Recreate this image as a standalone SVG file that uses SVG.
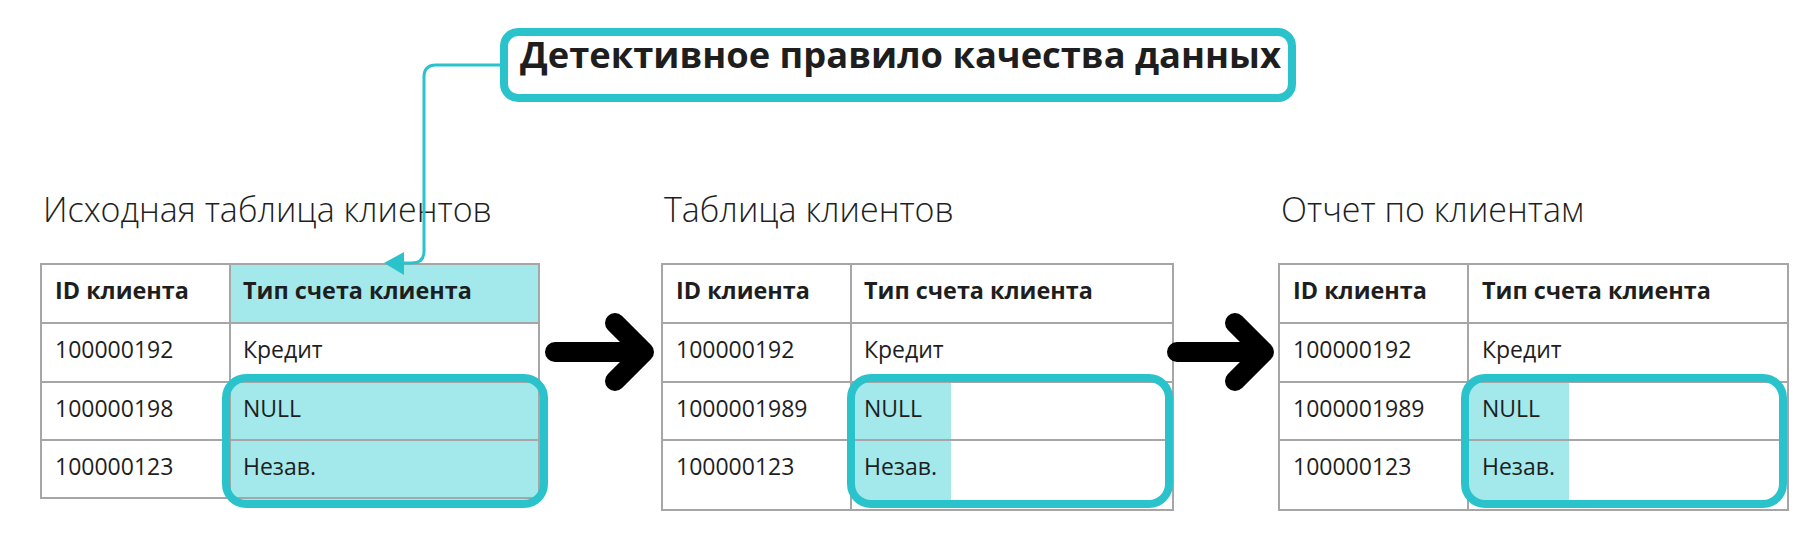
<svg xmlns="http://www.w3.org/2000/svg" width="1818" height="536" viewBox="0 0 1818 536">
<style>
.t{font-family:"Open Sans","Liberation Sans",sans-serif;fill:#1e1e1e}
.sub{font-size:34px;font-weight:300}
.hd{font-size:23.4px;font-weight:700}
.cell{font-size:23px}
.grid{fill:none;stroke:#a6a6a6;stroke-width:2}
.hl{fill:none;stroke:#2bc3cb;stroke-width:8}
.lf{fill:#a3e8eb}
.blk{fill:none;stroke:#000;stroke-width:20;stroke-linecap:round;stroke-linejoin:round}
</style>
<defs>
<clipPath id="c2"><rect x="851" y="378" width="318" height="126" rx="20"/></clipPath>
<clipPath id="c3"><rect x="1465" y="378" width="318" height="126" rx="20"/></clipPath>
</defs>
<rect width="1818" height="536" fill="#fff"/>

<g id="rule">
<rect x="504" y="32" width="788" height="66" rx="14" fill="#fff" stroke="#2bc3cb" stroke-width="8"/>
<text class="t" x="520" y="68" font-size="36.3" font-weight="700">Детективное правило качества данных</text>
</g>

<g id="table1">
<text class="t sub" x="43" y="222">Исходная таблица клиентов</text>
<rect class="lf" x="230" y="264" width="309" height="59"/>
<rect class="lf" x="226" y="378" width="318" height="126" rx="20"/>
<path class="grid" d="M41 264H539V498H41Z M230 264V498 M41 323H539 M41 382H539 M41 440H539"/>
<rect class="hl" x="226" y="378" width="318" height="126" rx="20"/>
<text class="t hd" x="55" y="299">ID клиента</text>
<text class="t hd" x="243" y="299">Тип счета клиента</text>
<text class="t cell" x="55" y="358">100000192</text>
<text class="t cell" x="243" y="358">Кредит</text>
<text class="t cell" x="55" y="417">100000198</text>
<text class="t cell" x="243" y="417">NULL</text>
<text class="t cell" x="55" y="475">100000123</text>
<text class="t cell" x="243" y="475">Незав.</text>
</g>

<g id="table2">
<text class="t sub" x="664" y="222">Таблица клиентов</text>
<rect class="lf" x="851" y="378" width="100" height="130" clip-path="url(#c2)"/>
<path class="grid" d="M662 264H1173V510H662Z M851 264V510 M662 323H1173 M662 382H1173 M662 440H1173"/>
<rect class="hl" x="851" y="378" width="318" height="126" rx="20"/>
<text class="t hd" x="676" y="299">ID клиента</text>
<text class="t hd" x="864" y="299">Тип счета клиента</text>
<text class="t cell" x="676" y="358">100000192</text>
<text class="t cell" x="864" y="358">Кредит</text>
<text class="t cell" x="676" y="417">1000001989</text>
<text class="t cell" x="864" y="417">NULL</text>
<text class="t cell" x="676" y="475">100000123</text>
<text class="t cell" x="864" y="475">Незав.</text>
</g>

<g id="table3">
<text class="t sub" x="1281" y="222">Отчет по клиентам</text>
<rect class="lf" x="1465" y="378" width="104" height="130" clip-path="url(#c3)"/>
<path class="grid" d="M1279 264H1788V510H1279Z M1468 264V510 M1279 323H1788 M1279 382H1788 M1279 440H1788"/>
<rect class="hl" x="1465" y="378" width="318" height="126" rx="20"/>
<text class="t hd" x="1293" y="299">ID клиента</text>
<text class="t hd" x="1482" y="299">Тип счета клиента</text>
<text class="t cell" x="1293" y="358">100000192</text>
<text class="t cell" x="1482" y="358">Кредит</text>
<text class="t cell" x="1293" y="417">1000001989</text>
<text class="t cell" x="1482" y="417">NULL</text>
<text class="t cell" x="1293" y="475">100000123</text>
<text class="t cell" x="1482" y="475">Незав.</text>
</g>

<g id="connectors">
<path d="M500 65H436Q424 65 424 77V251Q424 263 412 263H402" fill="none" stroke="#2bc3cb" stroke-width="3"/>
<polygon points="384,263 404,252 404,275" fill="#2bc3cb"/>
<path class="blk" d="M555 352H640 M615 323L644 352L615 381"/>
<path class="blk" d="M1177 352H1260 M1235 323L1264 352L1235 381"/>
</g>
</svg>
